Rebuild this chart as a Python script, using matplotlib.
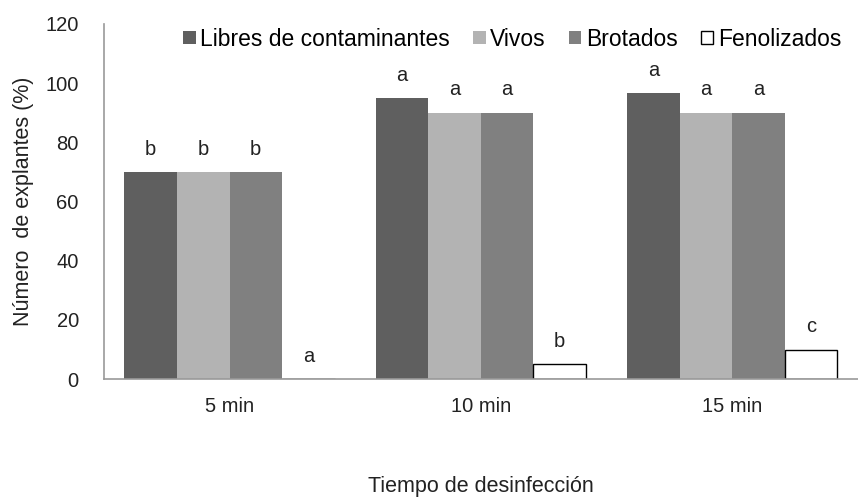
import numpy as np
import matplotlib
matplotlib.use('Agg')
import matplotlib.pyplot as plt

plt.rcParams['font.family'] = ['Liberation Sans', 'DejaVu Sans']

tiempos = ['5 min', '10 min', '15 min']
series = ['Libres de contaminantes', 'Vivos', 'Brotados', 'Fenolizados']
libres = [70, 95, 96.7]
vivos = [70, 90, 90]
brotados = [70, 90, 90]
fenolizados = [0, 5, 10]
letras = [['b', 'a', 'a'], ['b', 'a', 'a'], ['b', 'a', 'a'], ['a', 'b', 'c']]

colores = ['#5f5f5f', '#b3b3b3', '#808080', 'white']
bordes = ['none', 'none', 'none', 'black']

fig = plt.figure(figsize=(8.58, 4.97), dpi=100)
ax = fig.add_axes([0.121, 0.237, 0.879, 0.715])

x = np.arange(len(tiempos))
w = 0.209
valores = [libres, vivos, brotados, fenolizados]
for i, (nombre, vals) in enumerate(zip(series, valores)):
    pos = x + (i - 1.5) * w
    ax.bar(pos, vals, w, color=colores[i], edgecolor=bordes[i],
           linewidth=1.0 if bordes[i] != 'none' else 0, label=nombre)
    for p, v, l in zip(pos, vals, letras[i]):
        ax.text(p, v + 4.5, l, ha='center', va='bottom', fontsize=14.5, color='#222222')

ax.set_xlim(-0.5, 2.5)
ax.set_ylim(0, 120)
ax.set_yticks(range(0, 121, 20))
ax.set_xticks(x)
ax.set_xticklabels(tiempos)
ax.tick_params(axis='both', length=0, labelsize=14.5, colors='#222222')
ax.tick_params(axis='x', pad=13)
ax.tick_params(axis='y', pad=18)
for s in ['top', 'right']:
    ax.spines[s].set_visible(False)
for s in ['left', 'bottom']:
    ax.spines[s].set_color('#999999')
    ax.spines[s].set_linewidth(1.2)

ax.set_ylabel('Número  de explantes (%)', fontsize=15.5, color='#222222', labelpad=8)
ax.set_xlabel('Tiempo de desinfección', fontsize=15.5, color='#222222', labelpad=43)

leg = ax.legend(loc='upper right', bbox_to_anchor=(0.99, 1.015), ncol=4, frameon=False,
                fontsize=16.5, handlelength=0.55, handleheight=0.55, handletextpad=0.2,
                columnspacing=1.0, borderaxespad=0)

fig.savefig('out.png', dpi=100)
